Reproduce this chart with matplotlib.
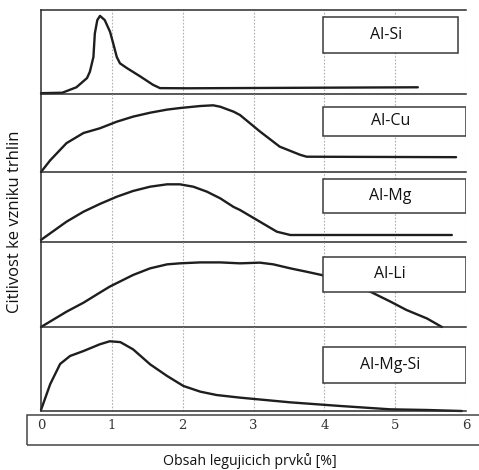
import matplotlib
matplotlib.use('Agg')
import matplotlib.pyplot as plt
from matplotlib.patches import Rectangle

# alloy systems, top to bottom
alloys = ['Al-Si', 'Al-Cu', 'Al-Mg', 'Al-Li', 'Al-Mg-Si']

# crack sensitivity curves (x = alloying content %, y = relative sensitivity)
alsi_x = [0, 0.3, 0.5, 0.65, 0.69, 0.74, 0.76, 0.795, 0.833, 0.90, 0.975, 1.02, 1.07,
          1.115, 1.21, 1.40, 1.58, 1.68, 2.06, 5.32]
alsi_y = [0.01, 0.015, 0.08, 0.19, 0.265, 0.44, 0.72, 0.88, 0.93, 0.88, 0.74, 0.60, 0.44,
          0.365, 0.31, 0.21, 0.11, 0.07, 0.068, 0.08]

alcu_x = [0, 0.13, 0.36, 0.6, 0.83, 1.07, 1.30, 1.54, 1.78, 1.96, 2.25, 2.43, 2.53,
          2.72, 2.81, 3.09, 3.37, 3.66, 3.75, 5.86]
alcu_y = [0, 0.15, 0.37, 0.50, 0.56, 0.645, 0.71, 0.76, 0.80, 0.82, 0.846, 0.855, 0.837,
          0.773, 0.73, 0.52, 0.325, 0.22, 0.196, 0.19]

almg_x = [0, 0.36, 0.6, 0.83, 1.07, 1.30, 1.54, 1.78, 1.96, 2.15, 2.34, 2.53, 2.72,
          2.81, 3.09, 3.33, 3.52, 5.80]
almg_y = [0.03, 0.29, 0.433, 0.543, 0.647, 0.729, 0.79, 0.824, 0.824, 0.79, 0.72, 0.624,
          0.50, 0.457, 0.29, 0.147, 0.10, 0.10]

alli_x = [0, 0.36, 0.6, 0.83, 0.97, 1.30, 1.54, 1.78, 1.96, 2.25, 2.53, 2.81, 3.09,
          3.28, 3.52, 3.75, 3.96, 4.65, 4.93, 5.16, 5.45, 5.66]
alli_y = [0, 0.18, 0.286, 0.404, 0.475, 0.612, 0.69, 0.737, 0.749, 0.76, 0.76, 0.749,
          0.757, 0.737, 0.69, 0.65, 0.612, 0.415, 0.30, 0.20, 0.10, 0.0]

almgsi_x = [0, 0.13, 0.27, 0.41, 0.6, 0.83, 0.97, 1.12, 1.30, 1.54, 1.78, 2.01, 2.25,
            2.48, 2.81, 3.52, 4.22, 4.93, 5.45, 5.94]
almgsi_y = [0.012, 0.32, 0.56, 0.655, 0.714, 0.794, 0.83, 0.82, 0.734, 0.556, 0.417,
            0.298, 0.23, 0.19, 0.159, 0.103, 0.06, 0.02, 0.012, 0.0]

curves = [(alsi_x, alsi_y), (alcu_x, alcu_y), (almg_x, almg_y),
          (alli_x, alli_y), (almgsi_x, almgsi_y)]

xticks = [0, 1, 2, 3, 4, 5, 6]

W, H = 479, 470
fig = plt.figure(figsize=(W / 100, H / 100), dpi=100)

# panel edges in pixels (top, bottom)
panels = [(10, 94), (94, 172), (172, 242), (242, 327), (327, 411)]
# label boxes: (x0, x1, y_bottom, y_top) in panel coords
boxes = [(3.98, 5.89, 0.488, 0.917), (3.98, 6.0, 0.462, 0.833), (3.98, 6.0, 0.414, 0.9),
         (3.98, 6.0, 0.412, 0.824), (3.98, 6.0, 0.333, 0.762)]

x0px, x1px = 41, 466
edge = '#2b2b2b'
axes = []
for i, (top, bot) in enumerate(panels):
    ax = fig.add_axes([x0px / W, 1 - bot / H, (x1px - x0px) / W, (bot - top) / H])
    ax.set_xlim(0, 6)
    ax.set_ylim(0, 1)
    for xv in xticks[1:]:
        ax.axvline(xv, color='#b0b0b0', lw=0.8, ls=(0, (1.5, 1.5)), zorder=0)
    cx, cy = curves[i]
    ax.plot(cx, cy, color='#1e1e1e', lw=1.7, clip_on=False, zorder=2,
            solid_joinstyle='round', solid_capstyle='round')
    bx0, bx1, by0, by1 = boxes[i]
    ax.add_patch(Rectangle((bx0, by0), bx1 - bx0, by1 - by0, facecolor='white',
                           edgecolor='#3a3a3a', lw=1.1, zorder=3))
    ax.text((bx0 + bx1) / 2 - 0.06, (by0 + by1) / 2, alloys[i], ha='center', va='center',
            fontsize=11.5, family='Open Sans', color='#111111', zorder=4)
    for s in ['top', 'right']:
        ax.spines[s].set_visible(False)
    if i == 0:
        ax.spines['top'].set_visible(True)
    for s in ['left', 'bottom', 'top']:
        ax.spines[s].set_color(edge)
        ax.spines[s].set_linewidth(1.1)
    ax.set_yticks([])
    ax.set_xticks(xticks)
    ax.tick_params(length=0)
    ax.set_xticklabels([])
    ax.patch.set_alpha(0)
    axes.append(ax)

bottom = axes[-1]
bottom.set_xticklabels([str(v) for v in xticks], family='DejaVu Serif', fontsize=9.5,
                       color='#333333')
bottom.tick_params(axis='x', pad=6)

# frame around the tick labels
fig.add_artist(Rectangle((27 / W, 1 - 445 / H), (482 - 27) / W, (445 - 415) / H,
                         transform=fig.transFigure, facecolor='none',
                         edgecolor='#444444', lw=1.1, clip_on=False, zorder=0))

fig.text(250 / W, 1 - 461 / H, 'Obsah legujicich prvků [%]', ha='center', va='center',
         fontsize=10.2, family='Open Sans', color='#111111')
fig.text(15 / W, 1 - 222 / H, 'Citlivost ke vzniku trhlin', ha='center', va='center',
         rotation=90, fontsize=12, family='Open Sans', color='#111111')

fig.savefig('out.png', dpi=100)
